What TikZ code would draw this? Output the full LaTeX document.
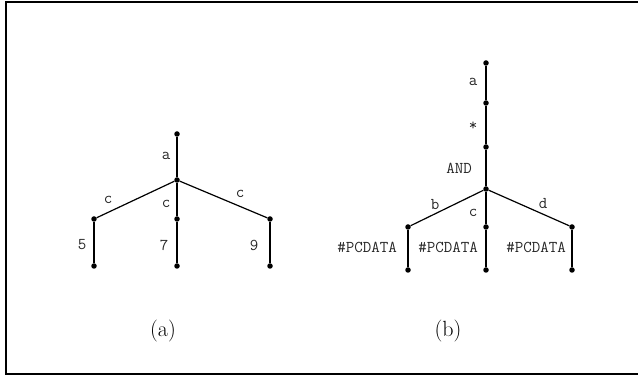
\documentclass[tikz,border=0pt]{standalone}
\usepackage{fontspec}
\begin{document}
\begin{tikzpicture}[x=1pt,y=-1pt,
  vtx/.style={circle,fill=black,inner sep=0pt,minimum size=5.5pt},
  edge/.style={line width=1.2pt},
  lbl/.style={font=\ttfamily\fontsize{16.5}{17}\selectfont,inner sep=0pt,text=black!85},
  captext/.style={font=\fontsize{22}{24}\selectfont,inner sep=0pt}]
\useasboundingbox (0,0) rectangle (638,379);
\draw[line width=2pt] (5.7,2) rectangle (642,374.5);
% tree (a)
\node[vtx] (ar) at (177,134) {};
\node[vtx] (am) at (177,180) {};
\node[vtx] (aL) at (94,219) {};
\node[vtx] (aC) at (177,219) {};
\node[vtx] (aR) at (270,219) {};
\node[vtx] (aL2) at (94,266) {};
\node[vtx] (aC2) at (177,266) {};
\node[vtx] (aR2) at (270,266) {};
\draw[edge] (ar) -- (am);
\draw[edge] (am) -- (aL);
\draw[edge] (am) -- (aC);
\draw[edge] (am) -- (aR);
\draw[edge] (aL) -- (aL2);
\draw[edge] (aC) -- (aC2);
\draw[edge] (aR) -- (aR2);
\node[lbl] (la) at (166,156) {a};
\node[lbl] (lc1) at (108,200) {c};
\node[lbl] (lc2) at (166,204) {c};
\node[lbl] (lc3) at (240,194) {c};
\node[lbl] (l5) at (82,245) {5};
\node[lbl] (l7) at (164,245) {7};
\node[lbl] (l9) at (254,245) {9};
\node[captext] (capa) at (163,331) {(a)};
% tree (b)
\node[vtx] (br) at (486,63) {};
\node[vtx] (b2) at (486,103) {};
\node[vtx] (b3) at (486,147) {};
\node[vtx] (bm) at (486,189) {};
\node[vtx] (bL) at (408,227) {};
\node[vtx] (bC) at (486,227) {};
\node[vtx] (bR) at (572,227) {};
\node[vtx] (bL2) at (408,270) {};
\node[vtx] (bC2) at (486,270) {};
\node[vtx] (bR2) at (572,270) {};
\draw[edge] (br) -- (b2);
\draw[edge] (b2) -- (b3);
\draw[edge] (b3) -- (bm);
\draw[edge] (bm) -- (bL);
\draw[edge] (bm) -- (bC);
\draw[edge] (bm) -- (bR);
\draw[edge] (bL) -- (bL2);
\draw[edge] (bC) -- (bC2);
\draw[edge] (bR) -- (bR2);
\node[lbl] (lba) at (473,82) {a};
\node[lbl] (lbs) at (473,126) {*};
\node[lbl] (lband) at (459,168) {AND};
\node[lbl] (lbb) at (435,205) {b};
\node[lbl] (lbc) at (473,213) {c};
\node[lbl] (lbd) at (543,204) {d};
\node[lbl,anchor=east] (p1) at (397,247) {\#PCDATA};
\node[lbl,anchor=east] (p2) at (478,247) {\#PCDATA};
\node[lbl,anchor=east] (p3) at (566,247) {\#PCDATA};
\node[captext] (capb) at (448,331) {(b)};
\end{tikzpicture}
\end{document}
